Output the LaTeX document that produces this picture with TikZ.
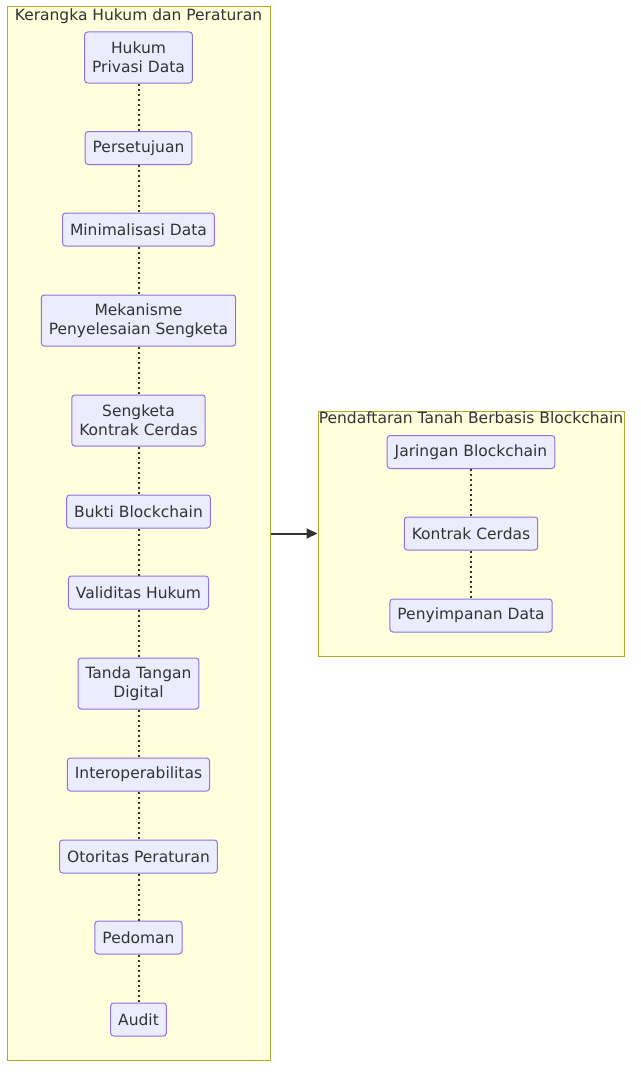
\documentclass[tikz,border=0pt]{standalone}
\usepackage{fontspec}
\setmainfont{DejaVu Sans}
\usepackage{xcolor}
\usetikzlibrary{arrows.meta,positioning}
\definecolor{clfill}{HTML}{FFFFDE}
\definecolor{clline}{HTML}{AAAA33}
\definecolor{nfill}{HTML}{ECECFF}
\definecolor{nline}{HTML}{9370DB}
\definecolor{ink}{HTML}{333333}

\begin{document}
\begin{tikzpicture}[
          x=1pt,y=-1pt,
          every node/.style={font=\fontsize{15.5}{19}\selectfont,text=ink},
          cluster/.style={draw=clline,fill=clfill,line width=1pt,inner sep=0pt},
          box/.style={draw=nline,fill=nfill,line width=1pt,rounded corners=3pt,
                      align=center,inner xsep=7.5pt,inner ysep=0pt,minimum height=33pt},
          link/.style={draw=ink,line width=2pt,dash pattern=on 2pt off 3pt},
      ]
        \useasboundingbox (0,0) rectangle (640,1081);

        % clusters
        \node[cluster,minimum width=263pt,minimum height=1053pt] (legal) at (138.5,533.5) {};
        \node[cluster,minimum width=306pt,minimum height=245pt] (land) at (471,533.5) {};
        \node[anchor=north,inner sep=0pt] (legaltitle) at (138.5,9) {Kerangka Hukum dan Peraturan};
        \node[anchor=north,inner sep=0pt] (landtitle) at (471,412) {Pendaftaran Tanah Berbasis Blockchain};

        % left column
        \node[box,minimum height=51pt] (privasi) at (138.5,57.5) {Hukum\\Privasi Data};
        \node[box] (setuju) at (138.5,148) {Persetujuan};
        \node[box] (minimal) at (138.5,229.5) {Minimalisasi Data};
        \node[box,minimum height=51pt] (mekanisme) at (138.5,320.5) {Mekanisme\\Penyelesaian Sengketa};
        \node[box,minimum height=51pt] (sengketa) at (138.5,420.5) {Sengketa\\Kontrak Cerdas};
        \node[box] (bukti) at (138.5,511.5) {Bukti Blockchain};
        \node[box] (validitas) at (138.5,592.5) {Validitas Hukum};
        \node[box,minimum height=51pt] (tanda) at (138.5,683.5) {Tanda Tangan\\Digital};
        \node[box] (interop) at (138.5,774.5) {Interoperabilitas};
        \node[box] (otoritas) at (138.5,856.5) {Otoritas Peraturan};
        \node[box] (pedoman) at (138.5,937.5) {Pedoman};
        \node[box] (audit) at (138.5,1019.5) {Audit};

        % right column
        \node[box] (jaringan) at (471,452) {Jaringan Blockchain};
        \node[box] (kontrak) at (471,533.5) {Kontrak Cerdas};
        \node[box] (simpan) at (471,615.5) {Penyimpanan Data};

        \draw[link] (privasi) -- (setuju);
        \draw[link] (setuju) -- (minimal);
        \draw[link] (minimal) -- (mekanisme);
        \draw[link] (mekanisme) -- (sengketa);
        \draw[link] (sengketa) -- (bukti);
        \draw[link] (bukti) -- (validitas);
        \draw[link] (validitas) -- (tanda);
        \draw[link] (tanda) -- (interop);
        \draw[link] (interop) -- (otoritas);
        \draw[link] (otoritas) -- (pedoman);
        \draw[link] (pedoman) -- (audit);

        \draw[link] (jaringan) -- (kontrak);
        \draw[link] (kontrak) -- (simpan);

        \draw[-{Triangle[length=11pt,width=10pt]},ink,line width=2pt] (legal.east) -- (land.west);
      \end{tikzpicture}
\end{document}
